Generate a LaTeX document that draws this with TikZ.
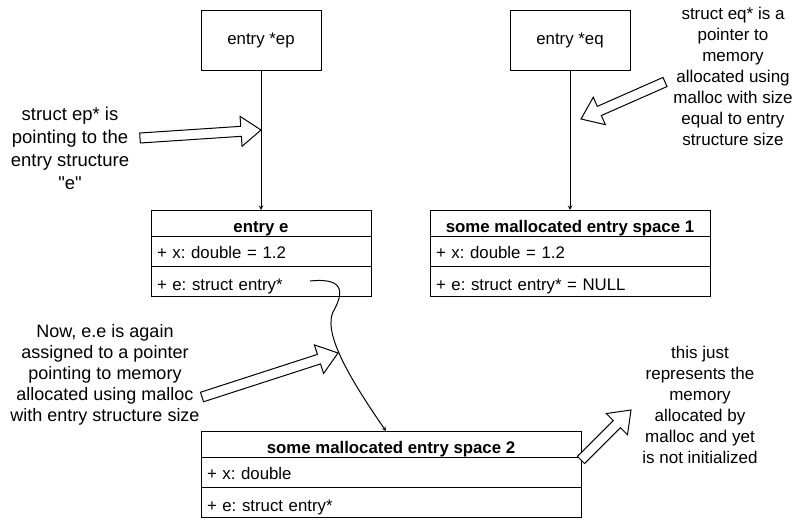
\documentclass[tikz,border=0pt]{standalone}
\usepackage{fontspec}
\setmainfont{Liberation Sans}[Ligatures=TeXOff]
\usetikzlibrary{arrows,positioning,calc}
\frenchspacing

\newcommand{\boxfont}{\fontsize{16.8}{20}\selectfont}
\newcommand{\notefont}{\fontsize{17}{21}\selectfont}
\newcommand{\bignotefont}{\fontsize{18.5}{23}\selectfont}
% hollow callout arrow from #1 (tail) to #2 (tip)
\newcommand{\fatarrow}[2]{%
  \coordinate (fa-h) at ($(#2)!20pt!(#1)$);
  \draw[fat] ($(#1)!5pt!90:(#2)$) -- ($(fa-h)!5pt!90:(#2)$) -- ($(fa-h)!15pt!90:(#2)$) -- (#2)
    -- ($(fa-h)!15pt!-90:(#2)$) -- ($(fa-h)!5pt!-90:(#2)$) -- ($(#1)!5pt!-90:(#2)$) -- cycle;}

\begin{document}
\begin{tikzpicture}[x=1pt, y=-1pt, line width=1pt,
    ptrbox/.style={rectangle, draw, minimum width=120pt, minimum height=60pt, font=\boxfont},
    head/.style={rectangle, draw, outer sep=0pt, inner ysep=0pt, minimum width=#1, minimum height=26pt, text height=20pt, text depth=2pt, font=\boxfont\bfseries},
    field/.style={rectangle, draw, outer sep=0pt, inner ysep=0pt, inner xsep=6pt, text width=#1, align=left, minimum height=30pt, text height=16pt, text depth=2pt, font=\boxfont},
    field2/.style={field=#1, text height=20pt},
    note/.style={align=center, font=\notefont},
    arrow/.style={->,>=stealth},
    fat/.style={draw, fill=white, line join=miter}]

\useasboundingbox[fill=white] (0,0) rectangle (801,520);

% Pointers
\node[ptrbox] (ep) at (261,40) {entry *ep};
\node[ptrbox] (eq) at (570,40) {entry *eq};

% Structures
\node[head=220pt] (e) at (261,223) {entry e};
\node[field=208pt, below=0pt of e] (ex) {+ x: double = 1.2};
\node[field2=208pt, below=0pt of ex] (ee) {+ e: struct entry*};

\node[head=280pt] (s1) at (570,223) {some mallocated entry space 1};
\node[field=268pt, below=0pt of s1] (s1x) {+ x: double = 1.2};
\node[field2=268pt, below=0pt of s1x] (s1e) {+ e: struct entry* = NULL};

\node[head=380pt] (s2) at (391,444) {some mallocated entry space 2};
\node[field=368pt, below=0pt of s2] (s2x) {+ x: double};
\node[field2=368pt, below=0pt of s2x] (s2e) {+ e: struct entry*};

% Notes
\node[note, font=\bignotefont] (n1) at (70,148) {struct ep* is\\pointing to the\\entry structure\\"e"};
\node[note] (n2) at (733,76) {struct eq* is a\\pointer to\\memory\\allocated using\\malloc with size\\equal to entry\\structure size};
\node[note, font=\fontsize{18}{21}\selectfont] (n3) at (105,375) {Now, e.e is again\\assigned to a pointer\\pointing to memory\\allocated using malloc\\with entry structure size};
\node[note] (n4) at (700,405) {this just\\represents the\\memory\\allocated by\\malloc and yet\\is not initialized};

% Connections
\coordinate (eptr) at (310,281);
\draw[arrow] (ep) -- (e);
\draw[arrow] (eq) -- (s1);
\draw[arrow] (eptr) .. controls (348,277) and (342,296) .. (333,312)
    .. controls (325,330) and (340,365) .. ([xshift=-5pt]s2.north);

% Callout arrows
\coordinate (a1) at (140,138); \coordinate (b1) at (261,130);
\coordinate (a2) at (665,82);  \coordinate (b2) at (581,119);
\coordinate (a3) at (202,397); \coordinate (b3) at (338,353);
\coordinate (a4) at (581,460); \coordinate (b4) at (631,410);
\fatarrow{a1}{b1}
\fatarrow{a2}{b2}
\fatarrow{a3}{b3}
\fatarrow{a4}{b4}
\end{tikzpicture}
\end{document}
